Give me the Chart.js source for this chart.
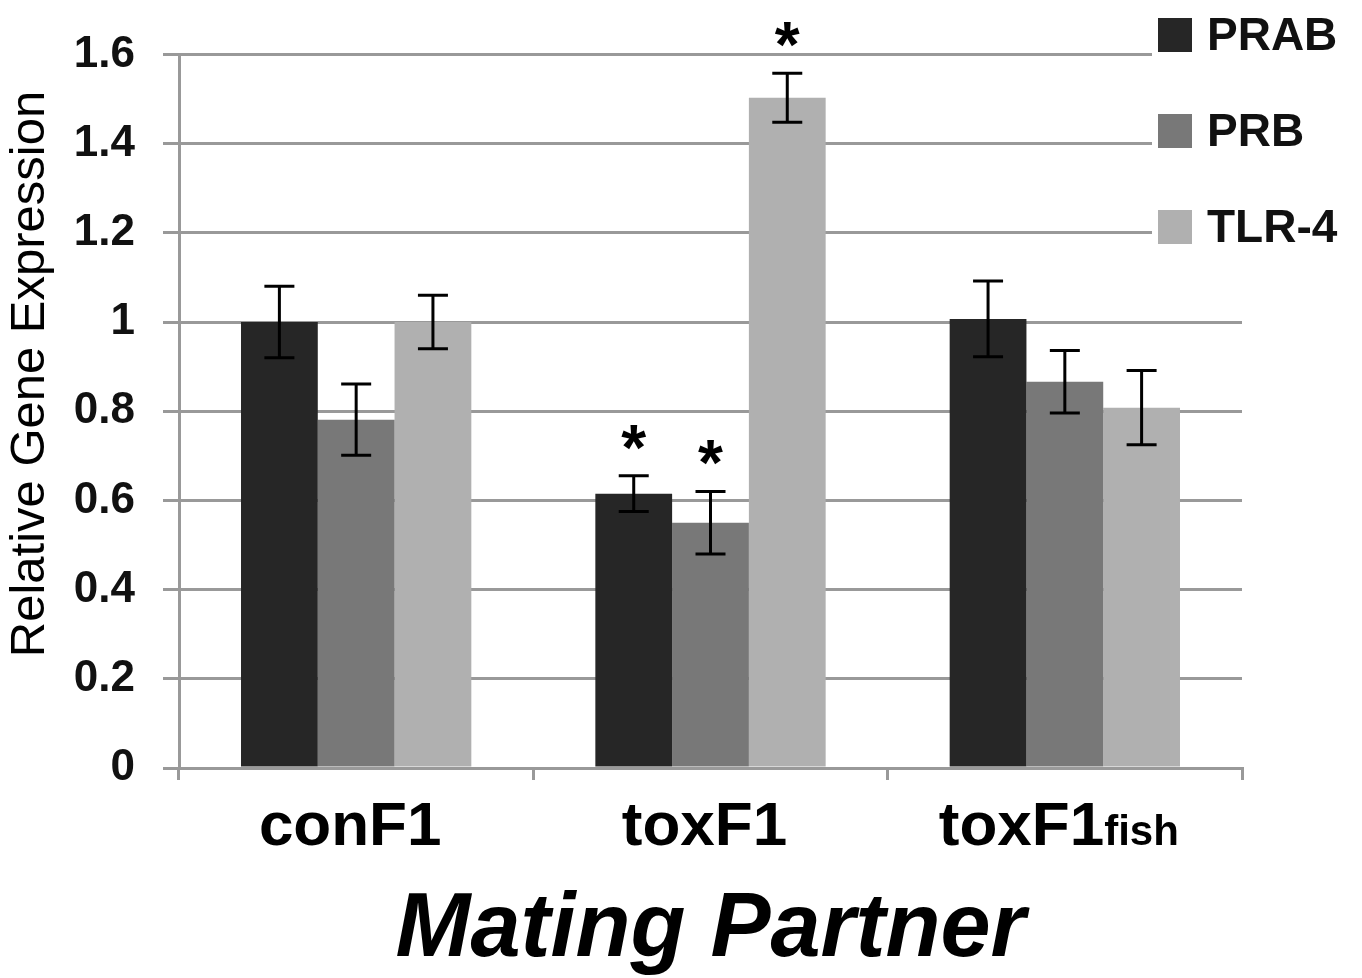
<!DOCTYPE html>
<html>
<head>
<meta charset="utf-8">
<style>
  body { margin: 0; background: #fff; }
</style>
<script src="https://cdn.jsdelivr.net/npm/chart.js@4.4.1/dist/chart.umd.min.js"></script>
</head>
<body>
<canvas id="geneChart" width="1362" height="978"></canvas>
<script>
/* relative gene expression by mating partner */

const categories = ['conF1', 'toxF1', 'toxF1'];
const catSub = ['', '', 'fish'];

const prab = [1.0, 0.615, 1.007];
const prb = [0.781, 0.55, 0.866];
const tlr4 = [1.0, 1.503, 0.808];

const prabErr = [0.08, 0.04, 0.085];
const prbErr = [0.08, 0.07, 0.07];
const tlr4Err = [0.06, 0.055, 0.083];

const prabStar = [false, true, false];
const prbStar = [false, true, false];
const tlr4Star = [false, true, false];

const yTicks = [0, 0.2, 0.4, 0.6, 0.8, 1, 1.2, 1.4, 1.6];
const yTickLabels = ['0', '0.2', '0.4', '0.6', '0.8', '1', '1.2', '1.4', '1.6'];

const FONT = "'Liberation Sans', Arial, sans-serif";
const GRID = '#999999';

const errs = [prabErr, prbErr, tlr4Err];
const stars = [prabStar, prbStar, tlr4Star];

// error bars + asterisks
const errorBars = {
  id: 'errorBars',
  afterDatasetsDraw(chart) {
    const ctx = chart.ctx;
    const y = chart.scales.y;
    ctx.save();
    chart.data.datasets.forEach((ds, i) => {
      const meta = chart.getDatasetMeta(i);
      meta.data.forEach((bar, j) => {
        const v = ds.data[j];
        const e = errs[i][j];
        const top = y.getPixelForValue(v + e);
        const bot = y.getPixelForValue(v - e);
        ctx.strokeStyle = '#000';
        ctx.lineWidth = 3;
        ctx.beginPath();
        ctx.moveTo(bar.x, top); ctx.lineTo(bar.x, bot);
        ctx.moveTo(bar.x - 15, top); ctx.lineTo(bar.x + 15, top);
        ctx.moveTo(bar.x - 15, bot); ctx.lineTo(bar.x + 15, bot);
        ctx.stroke();
        if (stars[i][j]) {
          ctx.fillStyle = '#000';
          ctx.font = 'bold 64px ' + FONT;
          ctx.textAlign = 'center';
          ctx.textBaseline = 'middle';
          ctx.fillText('*', bar.x, top - 24);
        }
      });
    });
    ctx.restore();
  }
};

// legend, category labels and y title
const extras = {
  id: 'extras',
  afterDraw(chart) {
    const ctx = chart.ctx;
    const x = chart.scales.x;
    ctx.save();

    // legend box on white, covering the grid
    ctx.fillStyle = '#fff';
    ctx.fillRect(1152, 0, 210, 262);
    const rows = [35, 131, 227];
    chart.data.datasets.forEach((ds, i) => {
      ctx.fillStyle = ds.backgroundColor;
      ctx.fillRect(1158, rows[i] - 17, 34, 34);
      ctx.fillStyle = '#111';
      ctx.font = 'bold 46px ' + FONT;
      ctx.textAlign = 'left';
      ctx.textBaseline = 'middle';
      ctx.fillText(ds.label, 1207, rows[i] + 2);
    });

    // category labels
    categories.forEach((c, i) => {
      const cx = x.getPixelForValue(i);
      ctx.font = 'bold 62px ' + FONT;
      const w1 = ctx.measureText(c).width;
      ctx.font = 'bold 42px ' + FONT;
      const w2 = catSub[i] ? ctx.measureText(catSub[i]).width : 0;
      const start = cx - (w1 + w2) / 2 - 6;
      ctx.fillStyle = '#000';
      ctx.textAlign = 'left';
      ctx.textBaseline = 'alphabetic';
      ctx.font = 'bold 62px ' + FONT;
      ctx.fillText(c, start, 845);
      if (catSub[i]) {
        ctx.font = 'bold 42px ' + FONT;
        ctx.fillText(catSub[i], start + w1, 845);
      }
    });

    // y title
    ctx.translate(30, 374);
    ctx.rotate(-Math.PI / 2);
    ctx.font = '49px ' + FONT;
    ctx.fillStyle = '#000';
    ctx.textAlign = 'center';
    ctx.textBaseline = 'middle';
    ctx.fillText('Relative Gene Expression', 0, 0);
    ctx.restore();
  }
};

new Chart(document.getElementById('geneChart'), {
  type: 'bar',
  data: {
    labels: categories,
    datasets: [
      { label: 'PRAB', data: prab, backgroundColor: '#262626' },
      { label: 'PRB', data: prb, backgroundColor: '#787878' },
      { label: 'TLR-4', data: tlr4, backgroundColor: '#b0b0b0' }
    ]
  },
  options: {
    responsive: false,
    animation: false,
    layout: { padding: { top: 48, right: 120, left: 0, bottom: 0 } },
    datasets: { bar: { categoryPercentage: 0.65, barPercentage: 1, borderWidth: 0 } },
    plugins: {
      legend: { display: false },
      tooltip: { enabled: false },
      title: { display: false }
    },
    scales: {
      x: {
        grid: { offset: true, drawOnChartArea: false, drawTicks: true, tickLength: 12, color: GRID, lineWidth: 3 },
        border: { color: GRID, width: 3 },
        ticks: { display: false },
        title: {
          display: true,
          text: 'Mating Partner',
          color: '#000',
          font: { family: FONT, size: 90, weight: 'bold', style: 'italic', lineHeight: 1 },
          padding: { top: 0, bottom: 2 }
        },
        afterFit(axis) { axis.height = 210; }
      },
      y: {
        min: 0,
        max: 1.6,
        afterBuildTicks(axis) { axis.ticks = yTicks.map(v => ({ value: v })); },
        grid: { color: GRID, lineWidth: 3, tickLength: 16 },
        border: { color: GRID, width: 3 },
        ticks: {
          padding: 28,
          color: '#111',
          font: { family: FONT, size: 44, weight: 'bold' },
          callback: (v, i) => yTickLabels[i]
        },
        afterFit(axis) { axis.width = 179; }
      }
    }
  },
  plugins: [errorBars, extras]
});
</script>
</body>
</html>
